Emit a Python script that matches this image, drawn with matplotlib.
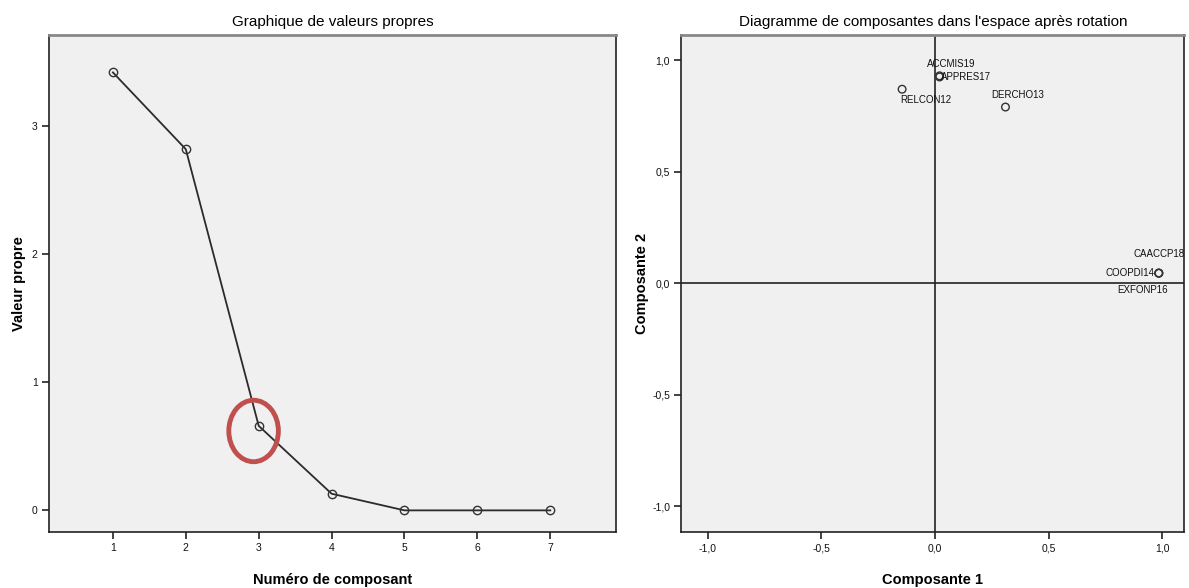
import matplotlib
matplotlib.use("Agg")
import matplotlib.pyplot as plt
from matplotlib.patches import Ellipse
from matplotlib.ticker import FuncFormatter

plt.rcParams['font.family'] = ['Liberation Sans', 'DejaVu Sans']

# Scree plot data
components = [1, 2, 3, 4, 5, 6, 7]
eigenvalues = [3.42, 2.82, 0.66, 0.13, 0.0, 0.0, 0.0]

# Rotated component plot data
var_names = ["RELCON12", "APPRES17", "ACCMIS19", "DERCHO13", "COOPDI14", "CAACCP18", "EXFONP16"]
comp1 = [-0.145, 0.02, 0.02, 0.31, 0.985, 0.985, 0.985]
comp2 = [0.87, 0.925, 0.93, 0.79, 0.045, 0.045, 0.045]
# label placement (offset in points, ha, va)
label_pos = {
    "RELCON12": (-1, -4, 'left', 'top'),
    "APPRES17": (1, 0, 'left', 'center'),
    "ACCMIS19": (-9, 5, 'left', 'bottom'),
    "DERCHO13": (-10, 5, 'left', 'bottom'),
    "COOPDI14": (-3, 0, 'right', 'center'),
    "CAACCP18": (-18, 14, 'left', 'center'),
    "EXFONP16": (-30, -12, 'left', 'center'),
}

fig = plt.figure(figsize=(11.89, 5.88), dpi=100)
fig.patch.set_facecolor('white')

bg = '#F0F0F0'
dark = '#222222'

def style_axes(ax):
    ax.set_facecolor(bg)
    for s in ['left', 'bottom', 'right']:
        ax.spines[s].set_color(dark)
        ax.spines[s].set_linewidth(1.2)
    ax.spines['top'].set_color('#888888')
    ax.spines['top'].set_linewidth(2.0)
    ax.tick_params(axis='both', direction='out', length=5, width=1.2, color=dark,
                   labelsize=7.5, labelcolor='#111111', top=False, right=False, pad=3)

# Left: scree plot
ax1 = fig.add_axes([0.041, 0.095, 0.477, 0.845])
style_axes(ax1)
ax1.plot(components, eigenvalues, color='#2b2b2b', lw=1.3, marker='o', ms=6,
         mfc='none', mec='#333333', mew=1.0, zorder=3)
ax1.set_xlim(0.12, 7.9)
ax1.set_ylim(-0.17, 3.71)
ax1.set_xticks(components)
ax1.set_yticks([0, 1, 2, 3])
ax1.set_title("Graphique de valeurs propres", fontsize=11, pad=7)
ax1.set_xlabel("Numéro de composant", fontsize=10.5, fontweight='bold', labelpad=14)
ax1.set_ylabel("Valeur propre", fontsize=10.5, fontweight='bold', labelpad=4)
ell = Ellipse((components[2] - 0.07, eigenvalues[2] - 0.04), width=0.68, height=0.48,
              fill=False, ec='#C0504D', lw=3.5, zorder=4)
ax1.add_patch(ell)

# Right: component plot in rotated space
ax2 = fig.add_axes([0.573, 0.095, 0.423, 0.845])
style_axes(ax2)
ax2.axhline(0, color=dark, lw=1.2, zorder=1)
ax2.axvline(0, color=dark, lw=1.2, zorder=1)
ax2.scatter(comp1, comp2, s=30, facecolors='none', edgecolors='#333333', linewidths=1.0, zorder=3)
for name, x, y in zip(var_names, comp1, comp2):
    dx, dy, ha, va = label_pos[name]
    ax2.annotate(name, (x, y), xytext=(dx, dy), textcoords='offset points',
                 ha=ha, va=va, fontsize=7, color='#111111')
ax2.set_xlim(-1.117, 1.097)
ax2.set_ylim(-1.117, 1.112)
ax2.set_xticks([-1.0, -0.5, 0.0, 0.5, 1.0])
ax2.set_yticks([-1.0, -0.5, 0.0, 0.5, 1.0])
fmt = FuncFormatter(lambda v, p: f"{v:.1f}".replace('.', ',').replace('−', '-'))
ax2.xaxis.set_major_formatter(fmt)
ax2.yaxis.set_major_formatter(fmt)
ax2.set_title("Diagramme de composantes dans l'espace après rotation", fontsize=11, pad=7)
ax2.set_xlabel("Composante 1", fontsize=10.5, fontweight='bold', labelpad=14)
ax2.set_ylabel("Composante 2", fontsize=10.5, fontweight='bold', labelpad=2)

fig.savefig("out.png", dpi=100, facecolor='white')
